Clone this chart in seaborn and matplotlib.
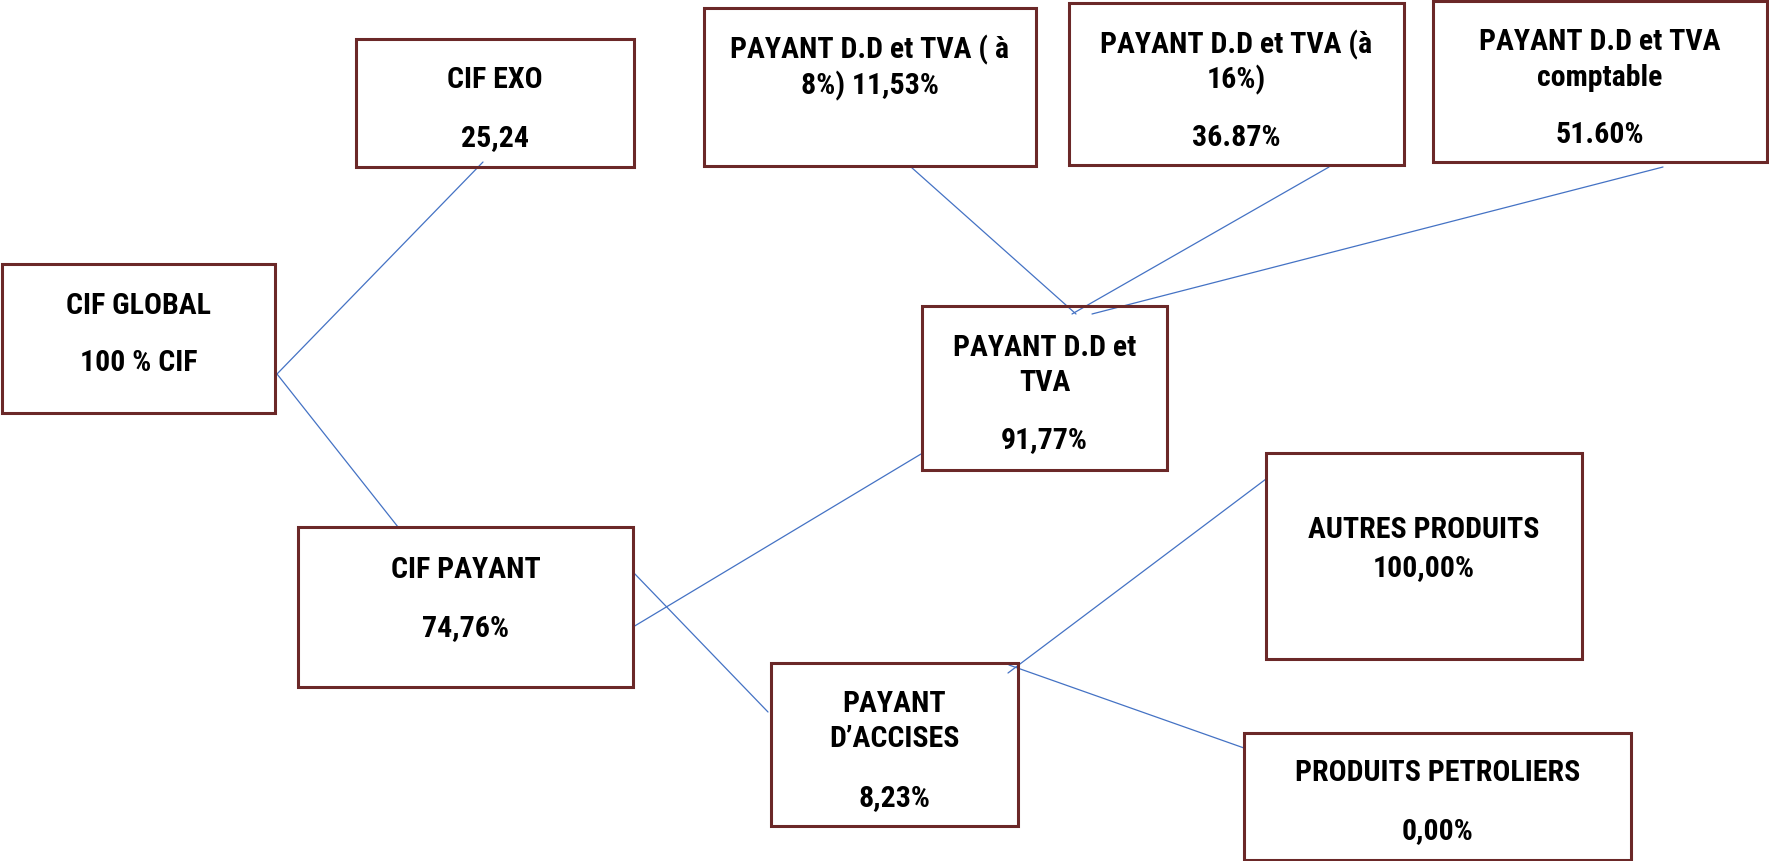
import matplotlib
matplotlib.use("Agg")
import matplotlib.pyplot as plt
import seaborn as sns
import pandas as pd
from matplotlib.patches import Rectangle

sns.set_style("white")
plt.rcParams['font.family'] = ['Roboto Condensed', 'DejaVu Sans']

# ---------------------------------------------------------------
# Diagram content
# ---------------------------------------------------------------
nodes = ["glob", "exo", "payant", "tva8", "tva16", "compt", "ddtva",
         "accises", "autres", "petro"]
labels = {
    "glob": ["CIF GLOBAL", "100 % CIF"],
    "exo": ["CIF EXO", "25,24"],
    "payant": ["CIF PAYANT", "74,76%"],
    "tva8": ["PAYANT D.D et TVA ( à", "8%) 11,53%"],
    "tva16": ["PAYANT D.D et TVA (à", "16%)", "36.87%"],
    "compt": ["PAYANT D.D et TVA", "comptable", "51.60%"],
    "ddtva": ["PAYANT D.D et", "TVA", "91,77%"],
    "accises": ["PAYANT", "D’ACCISES", "8,23%"],
    "autres": ["AUTRES PRODUITS", "100,00%"],
    "petro": ["PRODUITS PETROLIERS", "0,00%"],
}
links = [("glob", "exo"), ("glob", "payant"), ("ddtva", "tva8"),
         ("ddtva", "tva16"), ("ddtva", "compt"), ("payant", "ddtva"),
         ("payant", "accises"), ("accises", "autres"), ("accises", "petro")]

# ---------------------------------------------------------------
# Layout (pixel space, y pointing down)
# ---------------------------------------------------------------
box_pos = {
    "glob": (2, 264, 275, 413),
    "exo": (356, 39, 634, 167),
    "payant": (298, 527, 633, 687),
    "tva8": (704, 8, 1036, 166),
    "tva16": (1069, 3, 1404, 165),
    "compt": (1433, 1, 1767, 162),
    "ddtva": (922, 306, 1167, 470),
    "accises": (771, 663, 1018, 826),
    "autres": (1266, 453, 1582, 659),
    "petro": (1244, 733, 1631, 860),
}
text_y = {
    "glob": [303, 360],
    "exo": [77, 135],
    "payant": [567, 625],
    "tva8": [47, 83],
    "tva16": [42, 77, 135],
    "compt": [39, 75, 132],
    "ddtva": [345, 380, 437],
    "accises": [701, 736, 795],
    "autres": [527, 565],
    "petro": [770, 828],
}
link_ends = [((277, 374), (483, 162)), ((277, 374), (398, 527)),
             ((1076, 314), (911, 167)), ((1072, 314), (1329, 167)),
             ((1092, 314), (1663, 167)), ((633, 627), (921, 454)),
             ((633, 572), (768, 712)), ((1008, 673), (1266, 479)),
             ((1009, 665), (1244, 748))]

W, H = 1769, 861
fig = plt.figure(figsize=(W / 100, H / 100), dpi=100)
ax = fig.add_axes([0, 0, 1, 1])

# connectors
rows = []
for (a, b), (p, q) in zip(links, link_ends):
    rows.append({"edge": f"{a}-{b}", "x": p[0], "y": p[1]})
    rows.append({"edge": f"{a}-{b}", "x": q[0], "y": q[1]})
edges = pd.DataFrame(rows)
sns.lineplot(data=edges, x="x", y="y", units="edge", estimator=None,
             sort=False, color="#4472C4", linewidth=0.9, ax=ax)
ax.set_xlim(0, W)
ax.set_ylim(H, 0)
ax.axis("off")

# boxes and labels
for n in nodes:
    x0, y0, x1, y1 = box_pos[n]
    ax.add_patch(Rectangle((x0, y0), x1 - x0, y1 - y0, fill=False,
                           edgecolor="#6B2828", linewidth=2.2, zorder=3))
    cx = (x0 + x1) / 2
    for txt, ty in zip(labels[n], text_y[n]):
        ax.text(cx, ty + 11, txt, ha="center", va="baseline",
                fontsize=21.5, fontweight="bold", color="black", zorder=4)

plt.savefig("out.png", dpi=100)
plt.close()
